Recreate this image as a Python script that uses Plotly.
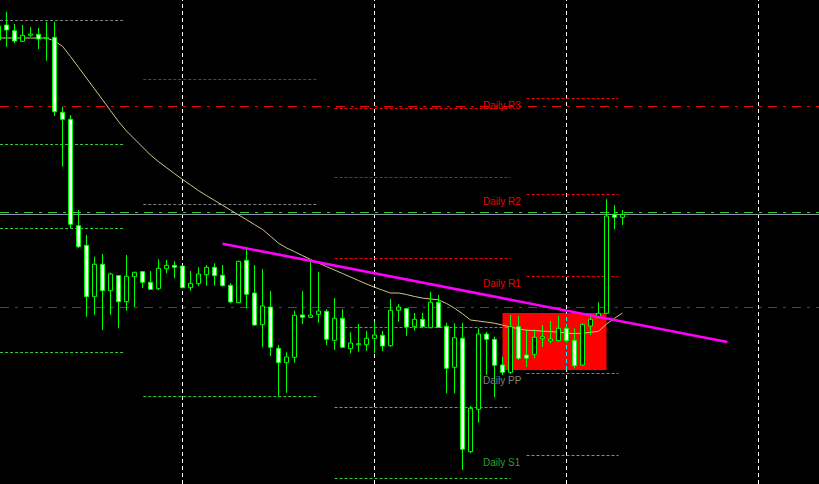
import plotly.graph_objects as go

# ---------------- data (hourly bars, price in points) ----------------
bar_index = list(range(-1, 78))
open_ = [458, 459, 453.3, 442.7, 448.7, 449.7, 445.3, 446.7, 371.7, 364.7,
         258.3, 238.7, 187.3, 219.7, 193.3, 208.3, 182.3, 207.3, 212.3, 201.7,
         195.3, 215.3, 218.7, 218, 196.3, 200.3, 209.3, 216.7, 208.7, 198.7,
         181.3, 223.7, 191, 159.3, 177, 135.7, 121.3, 126.7, 169, 166.7,
         169.7, 172.7, 143.7, 165.7, 135.3, 139.3, 139.3, 145.7, 148.7, 138.3,
         173.7, 175.3, 157.3, 164.7, 156.3, 181.7, 157.7, 116.7, 145.7, 32.3,
         74.7, 150, 144.7, 119, 111.7, 157.3, 129, 129.7, 145.3, 143,
         143.3, 155.7, 143.7, 119, 158, 166.3, 170.7, 269.7, 266.7]
high = [462, 472.3, 460, 459, 457, 456, 462.3, 462.3, 377.3, 369,
        274, 249, 227.3, 230, 211.3, 209, 229, 212.3, 213, 213,
        224.7, 224, 223, 219, 213, 216.7, 219, 220.7, 219, 200.7,
        223.3, 237.3, 219, 215, 193, 139, 131.7, 173.3, 193, 224,
        212.3, 174.7, 186, 175, 151.7, 160, 153, 162.3, 153, 185,
        180, 176.3, 171, 171.3, 192.3, 189, 161.3, 160.7, 161.3, 78,
        155.7, 152.3, 147.3, 127.3, 169, 168, 154.7, 154.7, 159, 163,
        168, 159, 155.7, 160.7, 170, 181.7, 284.7, 279, 274]
low = [439, 437.3, 441, 442.3, 447.3, 435, 423.3, 368, 317.3, 256,
       236, 167.3, 169, 154, 169, 155.7, 173.3, 176.7, 196, 194,
       194, 210.7, 205.7, 195.7, 193.3, 198, 198.3, 198.3, 197.5, 180.7,
       180.7, 175.7, 158.3, 136.7, 128, 87.3, 91.3, 121.3, 160, 166.3,
       161.3, 139, 134, 136.3, 130.7, 132.3, 133.3, 130.7, 133, 137.3,
       162.3, 148.3, 153.5, 155.7, 155.7, 156.3, 90.7, 90.7, 14, 30.7,
       61.3, 109, 86.7, 109, 110, 124, 117.3, 125.7, 137.3, 140.7,
       142.3, 141.3, 115.7, 118.3, 149, 165.7, 170, 254.7, 259]
close = [444, 454, 443, 448.7, 450, 445, 446.3, 372.3, 364.7, 259.7,
         237.3, 187.3, 219.7, 193.3, 210, 182.3, 207.7, 211.7, 201.7, 194.7,
         215.7, 218.7, 216.7, 196.3, 200.7, 210, 216.7, 208.3, 198.3, 182,
         222.7, 189.7, 159, 178, 136.7, 121.3, 127, 168.7, 166.7, 169,
         173, 144.7, 165.7, 136.7, 141, 140.3, 145.7, 149, 138, 173.7,
         177, 157, 164.7, 157.3, 181.7, 156.7, 115.7, 146.3, 34.7, 75.7,
         150, 144.7, 118.7, 111.7, 157.3, 125.7, 125.7, 146.7, 147.3, 145,
         155.7, 143.3, 118.3, 159.7, 164.7, 170.7, 268, 266.7, 269.5]
ma_line = [446, 446, 446, 446, 446, 446, 446, 443, 437.7, 427.5,
           416.7, 405.9, 395.1, 384.3, 373.4, 362.5, 353, 345, 337, 329,
           322.3, 316.4, 310.4, 304.6, 299, 293.4, 288.4, 283.6, 278.7, 273.9,
           269.1, 264.3, 259.4, 254.6, 247.8, 240.8, 236.1, 232.3, 228.4, 224.6,
           221, 217.4, 214, 210.5, 207, 203.5, 200, 196.8, 193.8, 191,
           191, 189.5, 187.5, 185.9, 185, 184.2, 180.5, 175.8, 170.2, 164,
           163, 161.9, 160.8, 158.9, 157, 155.2, 153.8, 153.4, 152.9, 152.4,
           151.9, 151, 150.3, 150.8, 151.7, 152.7, 159.9, 165.7, 171]

# daily pivot segments (bar positions) and levels
day_start = [-0.8, 17.1, 41.0, 65.0]
day_end = [14.6, 39.0, 63.0, 76.5]
resistance = [[], [404.5], [375.5, 306.5, 225.5], [385.5, 289.5, 207.5]]
pivot = [463.5, 279.5, 156.5, 110.5]
support = [[339.5, 255.5, 131.5], [87.5], [76.5, 5.5], [28.5]]

# full-width horizontal levels
red_levels = [377.5, 176.5]
green_levels = [271.5]

# day separators (bar index)
separators = [22, 46, 70, 94]

# trend line and zone rectangle
trend_x = [27, 90.1]
trend_y = [240.3, 142.0]
zone_x = [62, 75]
zone_y = [114.0, 171.0]

# labels of today's pivots
label_names = ["Daily R3", "Daily R2", "Daily R1", "Daily PP", "Daily S1"]
label_levels = [385.5, 289.5, 207.5, 110.5, 28.5]
label_bar = 59.35

# ---------------- styles ----------------
LIME = "#00ff00"
RED = "#f00000"
GREEN = "#32cd32"
GRAY = "#808080"

fig = go.Figure()

# wicks (thin bars so they sit under the bodies)
fig.add_trace(go.Bar(x=bar_index, y=[h - l for h, l in zip(high, low)], base=low,
                     width=0.125, opacity=1,
                     marker=dict(color=LIME, line=dict(width=0)), hoverinfo="skip"))

# bodies
bx, bb, bh = [], [], []
sx, sb, sh = [], [], []
for k, o, c in zip(bar_index, open_, close):
    if c >= o:
        bx.append(k); bb.append(o); bh.append(max(c - o, 0.6))
    else:
        sx.append(k); sb.append(c); sh.append(o - c)
fig.add_trace(go.Bar(x=bx, y=bh, base=bb, width=0.5, opacity=1,
                     marker=dict(color="black", line=dict(color=LIME, width=1)),
                     hoverinfo="skip"))
fig.add_trace(go.Bar(x=sx, y=sh, base=sb, width=0.5, opacity=1,
                     marker=dict(color="white", line=dict(color=LIME, width=1)),
                     hoverinfo="skip"))

# trend line
fig.add_trace(go.Scatter(x=trend_x, y=trend_y, mode="lines",
                         line=dict(color="#ff00ff", width=2.6), hoverinfo="skip"))

shapes = []
# separators
for s in separators:
    shapes.append(dict(type="line", xref="x", yref="paper", x0=s, x1=s, y0=0, y1=1,
                       line=dict(color="white", width=1, dash="4px,3px"), layer="below"))
# zone rectangle
shapes.append(dict(type="rect", xref="x", yref="y", x0=zone_x[0], x1=zone_x[1],
                   y0=zone_y[0], y1=zone_y[1], fillcolor="#ff0000",
                   line=dict(width=0), layer="below"))
for s in separators:
    if zone_x[0] < s < zone_x[1]:
        shapes.append(dict(type="line", xref="x", yref="y", x0=s, x1=s,
                           y0=zone_y[0], y1=zone_y[1],
                           line=dict(color="#00ffff", width=1, dash="4px,3px"),
                           layer="below"))
# full width levels
for lv in red_levels:
    shapes.append(dict(type="line", xref="paper", yref="y", x0=0, x1=1, y0=lv, y1=lv,
                       line=dict(color=RED, width=1, dash="9px,6px,3px,6px"), layer="below"))
for lv in green_levels:
    shapes.append(dict(type="line", xref="paper", yref="y", x0=0, x1=1, y0=lv, y1=lv,
                       line=dict(color=GREEN, width=1, dash="9px,6px,3px,6px"), layer="below"))
# bid line
shapes.append(dict(type="line", xref="paper", yref="y", x0=0, x1=1,
                   y0=close[-1], y1=close[-1],
                   line=dict(color="#8898a8", width=1), layer="below"))
# daily pivot segments
for d in range(len(day_start)):
    segs = [(lv, RED) for lv in resistance[d]] + [(pivot[d], GRAY)] + \
           [(lv, GREEN) for lv in support[d]]
    for lv, col in segs:
        shapes.append(dict(type="line", xref="x", yref="y", x0=day_start[d], x1=day_end[d],
                           y0=lv, y1=lv, line=dict(color=col, width=1, dash="3px,2px"),
                           layer="below"))
# moving average (as a path under the candles)
ma_path = "M " + " L ".join(f"{k},{v}" for k, v in zip(bar_index, ma_line))
shapes.append(dict(type="path", xref="x", yref="y", path=ma_path,
                   line=dict(color="#d4c68a", width=1), layer="below"))

label_colors = [RED, RED, RED, GRAY, "#2e9e2e"]
annotations = []
for name, lv, col in zip(label_names, label_levels, label_colors):
    annotations.append(dict(x=label_bar, y=lv, xref="x", yref="y", text=name,
                            showarrow=False, xanchor="left", yanchor="middle", yshift=-7,
                            font=dict(family="Liberation Sans, Arial", size=10, color=col)))

fig.update_layout(
    width=819, height=484,
    margin=dict(l=0, r=0, t=0, b=0, pad=0),
    paper_bgcolor="black", plot_bgcolor="black",
    showlegend=False, barmode="overlay", hovermode=False,
    xaxis=dict(range=[-0.8125, 101.5625], visible=False, showgrid=False, zeroline=False),
    yaxis=dict(range=[0, 484], visible=False, showgrid=False, zeroline=False),
    shapes=shapes, annotations=annotations,
)

fig.write_html("out.html", config={"displayModeBar": False},
               post_script="document.body.style.margin='0';"
                           "document.body.style.background='black';")
